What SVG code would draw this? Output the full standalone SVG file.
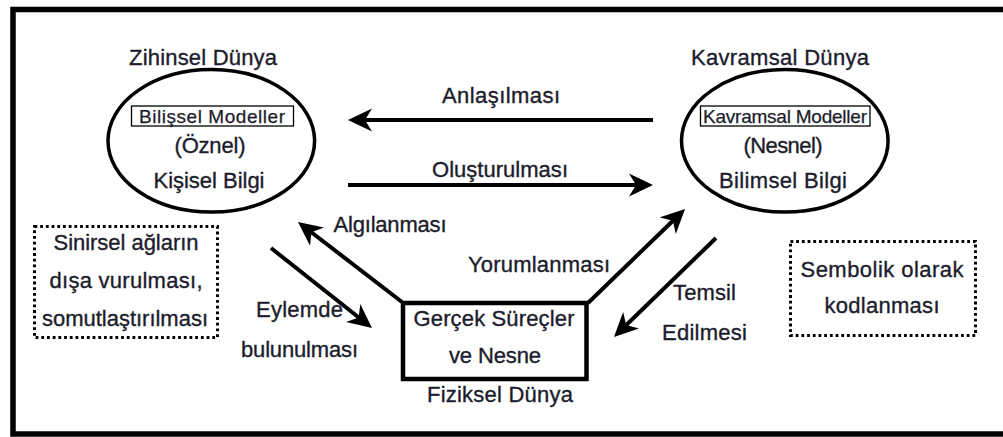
<svg xmlns="http://www.w3.org/2000/svg" width="1003" height="437" viewBox="0 0 1003 437">
  <style>
    text { font-family: "Liberation Sans", Arial, sans-serif; font-size: 22px; fill: #1c1c2c; stroke: #1c1c2c; stroke-width: 0.35; text-anchor: middle; }
    .small { font-size: 19px; stroke-width: 0.25; }
    .frame { fill: none; stroke: #000; stroke-width: 5.5; }
    .world { fill: #fff; stroke: #000; stroke-width: 3.5; }
    .tag { fill: #fff; stroke: #000; stroke-width: 1.3; }
    .thing { fill: #fff; stroke: #000; stroke-width: 4.5; }
    .note { fill: none; stroke: #000; stroke-width: 3; stroke-dasharray: 2.8 2.9; }
    .flow { fill: none; stroke: #000; stroke-width: 4; marker-end: url(#head); }
  </style>
  <defs>
    <marker id="head" viewBox="0 0 24 24" refX="10" refY="12" markerWidth="24" markerHeight="24" markerUnits="userSpaceOnUse" orient="auto">
      <path d="M24,12 L0,0.5 L7,12 L0,23.5 Z" fill="#000"/>
    </marker>
  </defs>

  <rect width="1003" height="437" fill="#fff"/>
  <!-- outer frame (open on the right edge) -->
  <rect class="frame" x="13" y="9.5" width="1010" height="424.5"/>

  <g id="zihinsel-dunya">
    <text x="203" y="65" textLength="148">Zihinsel Dünya</text>
    <ellipse class="world" cx="211.3" cy="140.8" rx="103.3" ry="71.3"/>
    <rect class="tag" x="131.5" y="106" width="162" height="20"/>
    <text class="small" x="212" y="122.5" textLength="146">Bilişsel Modeller</text>
    <text x="210" y="153" textLength="71">(Öznel)</text>
    <text x="209" y="188" textLength="111">Kişisel Bilgi</text>
  </g>

  <g id="kavramsal-dunya">
    <text x="780" y="64.5" textLength="178">Kavramsal Dünya</text>
    <ellipse class="world" cx="784.8" cy="140.8" rx="103.3" ry="71.3"/>
    <rect class="tag" x="700.5" y="106" width="169.5" height="20"/>
    <text class="small" x="785" y="122.5" textLength="164">Kavramsal Modeller</text>
    <text x="783" y="153" textLength="79">(Nesnel)</text>
    <text x="783" y="188" textLength="128">Bilimsel Bilgi</text>
  </g>

  <g id="fiziksel-dunya">
    <rect class="thing" x="403" y="303" width="183.5" height="76"/>
    <text x="494" y="326" textLength="161">Gerçek Süreçler</text>
    <text x="495" y="363" textLength="92">ve Nesne</text>
    <text x="500" y="402" textLength="146">Fiziksel Dünya</text>
  </g>

  <g id="sinirsel">
    <rect class="note" x="34.5" y="226.5" width="183" height="111"/>
    <text x="126" y="250" textLength="145">Sinirsel ağların</text>
    <text x="126" y="288" textLength="153">dışa vurulması,</text>
    <text x="125" y="326" textLength="166">somutlaştırılması</text>
  </g>

  <g id="sembolik">
    <rect class="note" x="790.5" y="241.5" width="185" height="94"/>
    <text x="882" y="277" textLength="163">Sembolik olarak</text>
    <text x="882" y="313" textLength="115">kodlanması</text>
  </g>

  <g id="connectors">
    <line class="flow" x1="653" y1="120" x2="362" y2="120"/>
    <line class="flow" x1="348" y1="185" x2="639" y2="185"/>
    <line class="flow" x1="402" y1="302" x2="309.1" y2="230.5"/>
    <line class="flow" x1="271" y1="248" x2="361" y2="319.3"/>
    <line class="flow" x1="588" y1="303" x2="675" y2="218.7"/>
    <line class="flow" x1="716" y1="238" x2="624" y2="327.2"/>
  </g>

  <g id="connector-labels">
    <text x="501" y="103" textLength="118">Anlaşılması</text>
    <text x="500" y="177" textLength="136">Oluşturulması</text>
    <text x="390" y="232" textLength="113">Algılanması</text>
    <text x="299.5" y="317" textLength="87">Eylemde</text>
    <text x="299.5" y="357" textLength="117">bulunulması</text>
    <text x="539" y="272" textLength="142">Yorumlanması</text>
    <text x="704.5" y="300" textLength="63">Temsil</text>
    <text x="704.5" y="340" textLength="85">Edilmesi</text>
  </g>
</svg>
